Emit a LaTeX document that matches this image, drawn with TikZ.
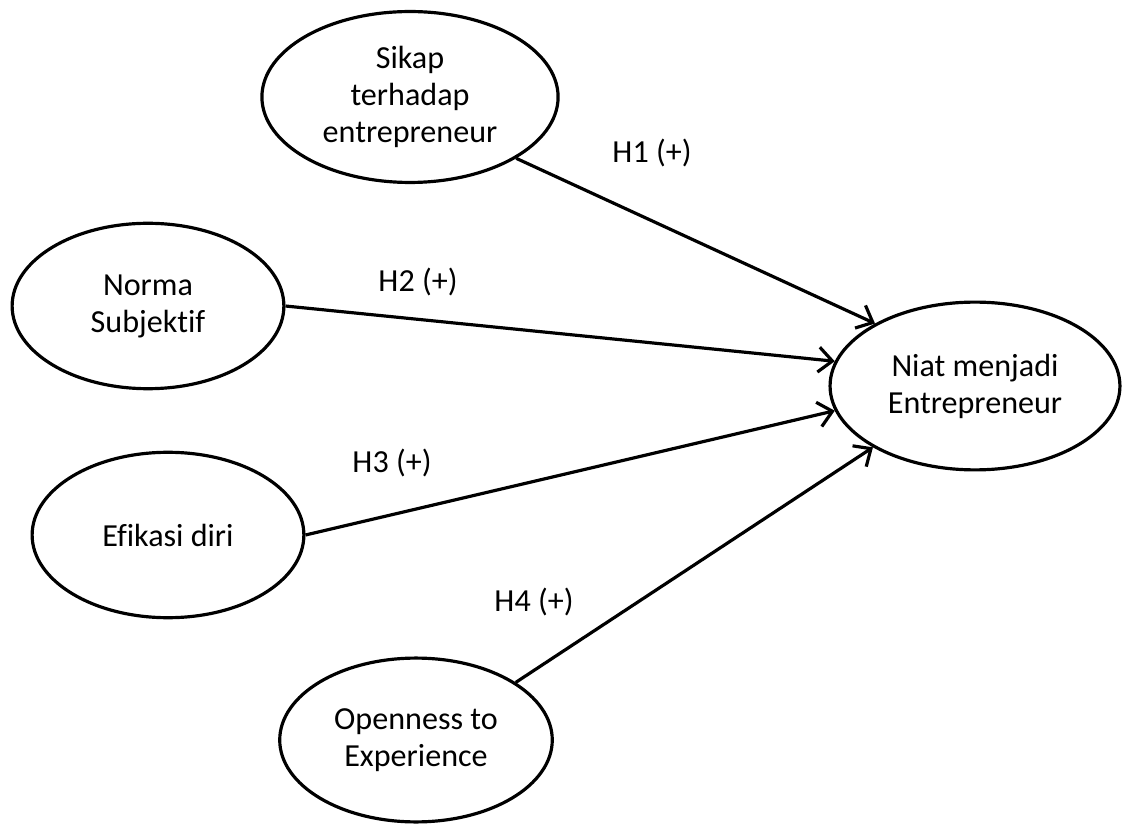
\documentclass[tikz,border=0pt]{standalone}
\usepackage{fontspec}
\setmainfont[Ligatures=NoCommon]{Carlito}
\usetikzlibrary{arrows.meta, shapes.geometric, positioning}
\tikzset{
  construct/.style={draw, ellipse, line width=1.15pt, inner sep=0pt,
    minimum width=3.45cm, minimum height=2.1cm, align=center},
  hypo/.style={->, line width=1.15pt},
  hlabel/.style={inner sep=0pt}
}

\begin{document}
\begin{tikzpicture}[x=0.0127cm, y=-0.0127cm, >={Straight Barb[length=5pt,width=9pt]},
  every node/.style={font=\fontsize{11.6}{13.4}\selectfont}]
\useasboundingbox (0,0) rectangle (1122,824);
% constructs
\node[construct, minimum width=3.76cm, minimum height=2.17cm] (sikap) at (410,97) {Sikap\\terhadap\\entrepreneur};
\node[construct] (norma) at (148,306) {Norma\\Subjektif};
\node[construct] (efikasi) at (168,535) {Efikasi diri};
\node[construct, minimum width=3.46cm, minimum height=2.08cm] (open) at (416,740) {Openness to\\Experience};
\node[construct, minimum width=3.68cm, minimum height=2.13cm] (niat) at (975,386) {Niat menjadi\\Entrepreneur};
% hypotheses
\draw[hypo] (sikap.330) -- (niat.148);
\draw[hypo] (norma.east) -- (niat.170);
\draw[hypo] (efikasi.east) -- (niat.190);
\draw[hypo] (open.30) -- (niat.211);
\node[hlabel] (h1) at (652,153) {H1 (+)};
\node[hlabel] (h2) at (418,282) {H2 (+)};
\node[hlabel] (h3) at (392,463) {H3 (+)};
\node[hlabel] (h4) at (534,602) {H4 (+)};
\end{tikzpicture}
\end{document}
